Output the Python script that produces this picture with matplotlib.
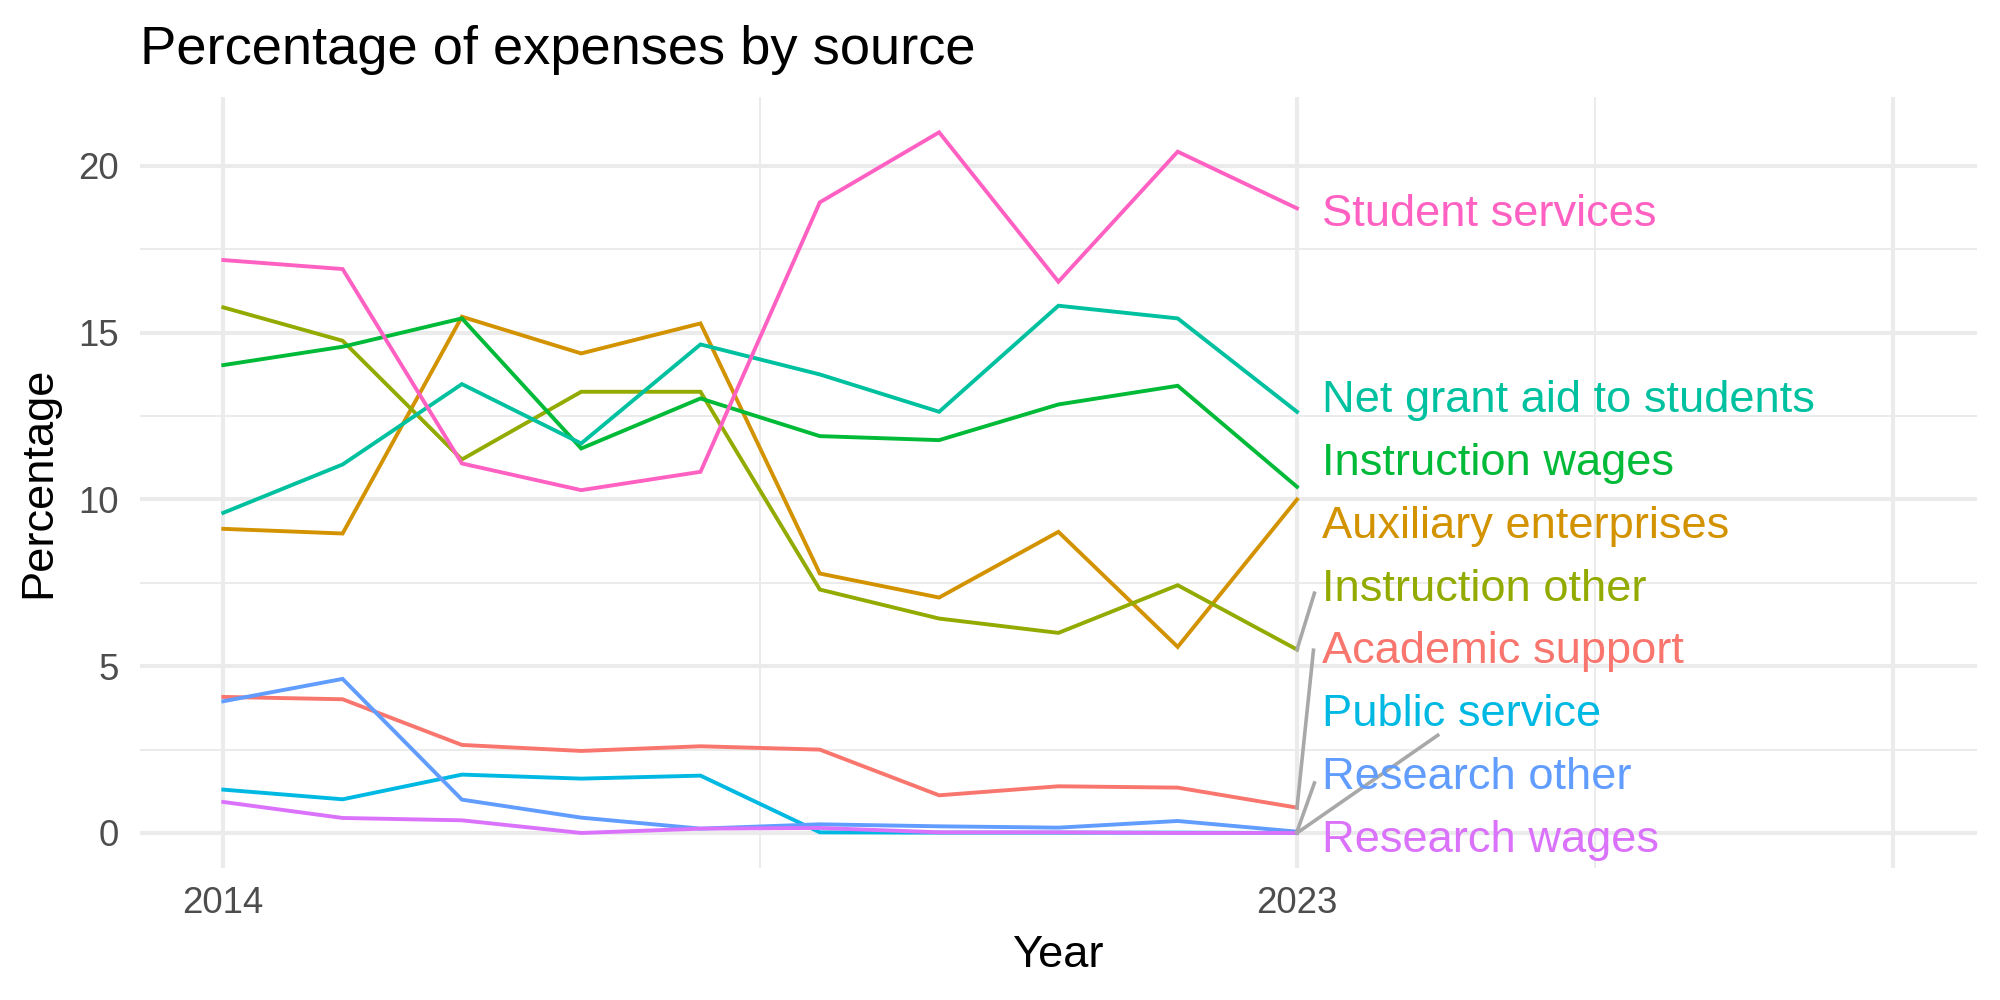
import matplotlib
matplotlib.use("Agg")
import matplotlib.pyplot as plt

plt.rcParams['font.family'] = ['Liberation Sans', 'DejaVu Sans']

years = [2014, 2015, 2016, 2017, 2018, 2019, 2020, 2021, 2022, 2023]

categories = ["Academic support", "Auxiliary enterprises", "Instruction other",
              "Instruction wages", "Net grant aid to students", "Public service",
              "Research other", "Research wages", "Student services"]

academic_support = [4.08, 4.01, 2.64, 2.46, 2.60, 2.50, 1.13, 1.40, 1.36, 0.76]
auxiliary_enterprises = [9.12, 8.98, 15.48, 14.38, 15.28, 7.78, 7.06, 9.03, 5.58, 10.00]
instruction_other = [15.76, 14.76, 11.20, 13.23, 13.23, 7.30, 6.43, 6.00, 7.43, 5.50]
instruction_wages = [14.03, 14.58, 15.43, 11.53, 13.03, 11.90, 11.78, 12.85, 13.41, 10.38]
net_grant_aid = [9.60, 11.05, 13.46, 11.68, 14.65, 13.75, 12.63, 15.81, 15.43, 12.63]
public_service = [1.30, 1.01, 1.75, 1.63, 1.72, 0.02, 0.01, 0.01, 0.01, 0.00]
research_other = [3.95, 4.62, 1.00, 0.46, 0.13, 0.26, 0.20, 0.16, 0.36, 0.04]
research_wages = [0.93, 0.45, 0.38, 0.00, 0.13, 0.15, 0.02, 0.02, 0.00, 0.00]
student_services = [17.18, 16.91, 11.08, 10.28, 10.83, 18.91, 21.01, 16.53, 20.43, 18.73]

series = [academic_support, auxiliary_enterprises, instruction_other, instruction_wages,
          net_grant_aid, public_service, research_other, research_wages, student_services]

colors = ["#F8766D", "#D39200", "#93AA00", "#00BA38", "#00C19F",
          "#00B9E3", "#619CFF", "#DB72FB", "#FF61C3"]

# repelled label placement (baseline y in data units) and leader-line ends
label_x = 2023.21
label_baseline = [5.09, 8.86, 6.96, 10.74, 12.61, 3.20, 1.31, -0.58, 18.19]
leader_end = {"Instruction other": (2023.146, 7.19),
              "Academic support": (2023.138, 5.48),
              "Research other": (2023.146, 1.50),
              "Public service": (2024.18, 2.93)}

x_major = [2014, 2023, 2028]
x_major_labels = ["2014", "2023", ""]
x_minor = [2018.5, 2025.5]
y_major = [0, 5, 10, 15, 20]
y_minor = [2.5, 7.5, 12.5, 17.5]

fig = plt.figure(figsize=(10, 5), dpi=200)
ax = fig.add_axes([0.0699, 0.132, 0.9186, 0.7707])

for name, vals, col in zip(categories, series, colors):
    ax.plot(years, vals, color=col, lw=1.4, solid_joinstyle='miter', zorder=3)

for name, vals, col, yb in zip(categories, series, colors, label_baseline):
    if name in leader_end:
        xe, ye = leader_end[name]
        ax.plot([years[-1], xe], [vals[-1], ye], color="#A8A8A8", lw=1.3,
                zorder=4, clip_on=False)
    ax.text(label_x, yb, name, color=col, fontsize=16.3, ha='left',
            va='baseline', zorder=5)

ax.set_xlim(2013.3, 2028.7)
ax.set_ylim(-1.05, 22.06)
ax.set_xticks(x_major)
ax.set_xticklabels(x_major_labels)
ax.set_xticks(x_minor, minor=True)
ax.set_yticks(y_major)
ax.set_yticklabels([str(v) for v in y_major])
ax.set_yticks(y_minor, minor=True)

ax.grid(which='major', color='#EBEBEB', lw=1.45)
ax.grid(which='minor', color='#EBEBEB', lw=0.72)
ax.set_axisbelow(True)
for s in ax.spines.values():
    s.set_visible(False)
ax.tick_params(which='both', length=0)
ax.tick_params(axis='x', labelsize=13.2, labelcolor='#4D4D4D', pad=6.5)
ax.tick_params(axis='y', labelsize=13.2, labelcolor='#4D4D4D', pad=7.5)

ax.set_xlabel("Year", fontsize=16.3, labelpad=5)
ax.set_ylabel("Percentage", fontsize=16.3, labelpad=7)

fig.text(0.0699, 0.936, "Percentage of expenses by source", fontsize=19.6,
         ha='left', va='baseline')

fig.savefig("out.png", dpi=200, facecolor='white')
